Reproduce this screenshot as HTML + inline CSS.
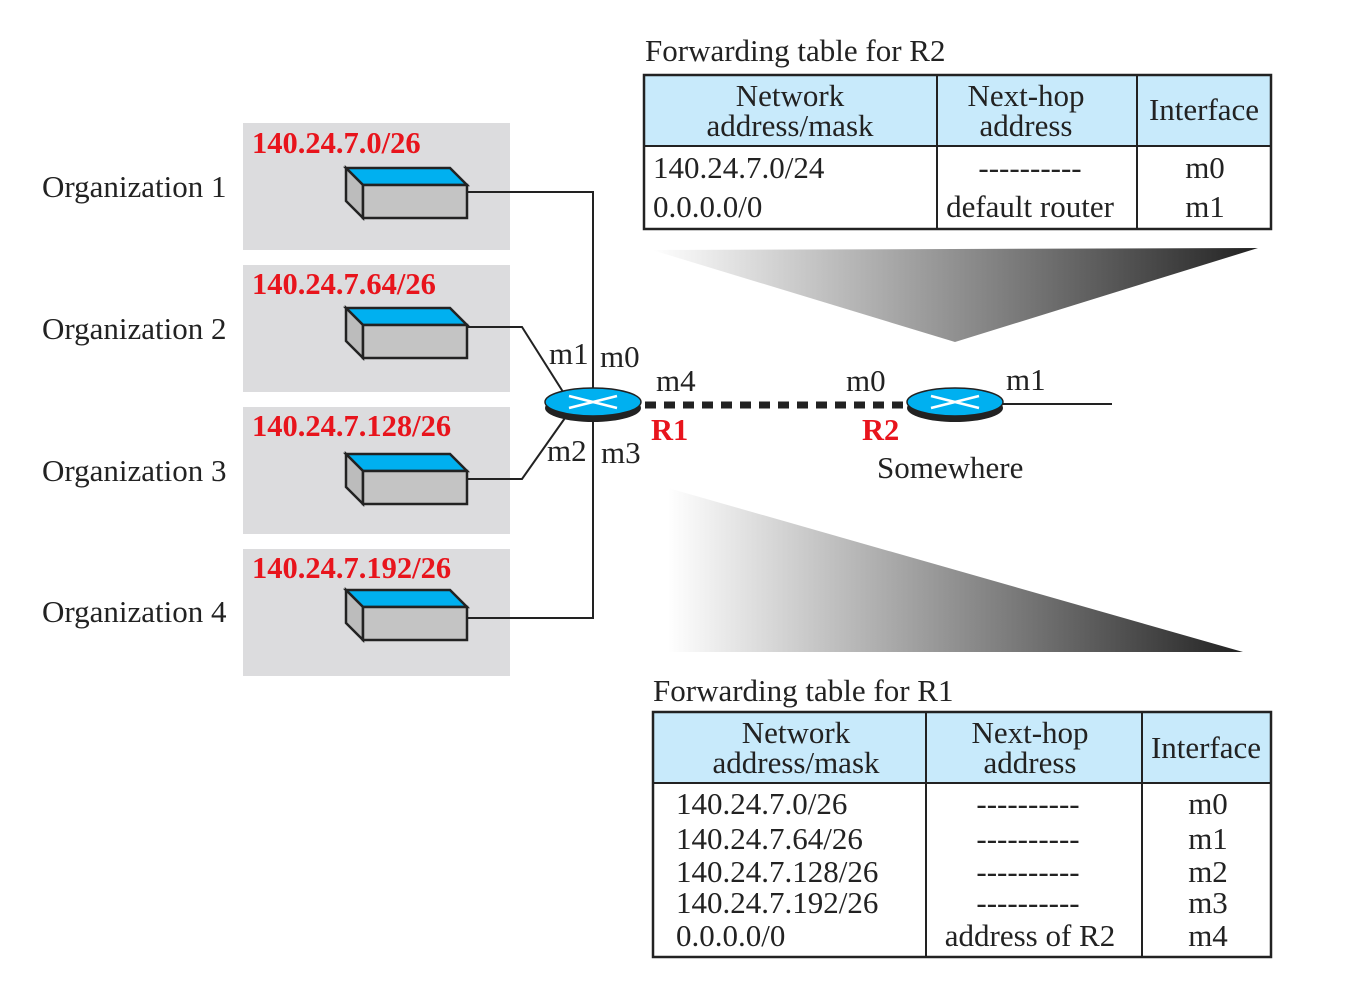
<!DOCTYPE html>
<html><head><meta charset="utf-8"><style>html,body{margin:0;padding:0;background:#fff}svg{display:block}text{font-family:"Liberation Serif",serif;font-size:31px;fill:#222}.r{fill:#e8141c;font-weight:bold;font-size:30.5px}</style></head><body>
<svg width="1348" height="999" viewBox="0 0 1348 999" xmlns="http://www.w3.org/2000/svg">
<defs>
<linearGradient id="g1" x1="0" x2="1" y1="0" y2="0"><stop offset="0" stop-color="#fff"/><stop offset="1" stop-color="#222"/></linearGradient>
<g id="dev"><polygon points="346,168 450,168 467,185 363,185" fill="#00b0f0" stroke="#222" stroke-width="2.5"/><polygon points="346,168 363,185 363,218 346,201" fill="#bcbcbc" stroke="#222" stroke-width="2.5"/><rect x="363" y="185" width="104" height="33" fill="#c4c4c4" stroke="#222" stroke-width="2.5"/></g>
<g id="rt"><ellipse cx="0" cy="6" rx="48" ry="14" fill="#222"/><ellipse cx="0" cy="0" rx="48" ry="14" fill="#00b0f0" stroke="#222" stroke-width="1.5"/><path d="M-24,-6 L24,6 M-24,6 L24,-6" stroke="#fff" stroke-width="2.5"/></g>
</defs>
<rect x="243" y="123" width="267" height="127" fill="#dcdcde"/>
<rect x="243" y="265" width="267" height="127" fill="#dcdcde"/>
<rect x="243" y="407" width="267" height="127" fill="#dcdcde"/>
<rect x="243" y="549" width="267" height="127" fill="#dcdcde"/>
<text x="252" y="153" class="r">140.24.7.0/26</text>
<text x="252" y="294" class="r">140.24.7.64/26</text>
<text x="252" y="436" class="r">140.24.7.128/26</text>
<text x="252" y="578" class="r">140.24.7.192/26</text>
<text x="42" y="197">Organization 1</text>
<text x="42" y="339">Organization 2</text>
<text x="42" y="481">Organization 3</text>
<text x="42" y="622">Organization 4</text>
<use href="#dev"/>
<use href="#dev" y="140"/>
<use href="#dev" y="286"/>
<use href="#dev" y="422"/>
<g fill="none" stroke="#222" stroke-width="2">
<polyline points="467,192 593,192 593,400"/>
<polyline points="467,327 522,327 565,395"/>
<polyline points="467,479 522,479 565,418"/>
<polyline points="467,618 593,618 593,420"/>
<line x1="1000" y1="404" x2="1112" y2="404"/>
<line x1="645" y1="405" x2="907" y2="405" stroke-width="7" stroke-dasharray="11,8"/>
</g>
<use href="#rt" x="593" y="402"/>
<use href="#rt" x="955" y="402"/>
<text x="549" y="364">m1</text><text x="600" y="367">m0</text>
<text x="656" y="391">m4</text><text x="846" y="391">m0</text>
<text x="1006" y="390">m1</text>
<text x="547" y="461">m2</text><text x="601" y="463">m3</text>
<text x="651" y="440" class="r">R1</text><text x="862" y="440" class="r">R2</text>
<text x="877" y="478">Somewhere</text>
<polygon points="652,250 1258,248 955,342" fill="url(#g1)"/>
<polygon points="668,488 1243,652 668,652" fill="url(#g1)"/>
<text x="645" y="61">Forwarding table for R2</text>
<rect x="644" y="75" width="627" height="71" fill="#c8eafb"/>
<rect x="644" y="75" width="627" height="154" fill="none" stroke="#222" stroke-width="2.5"/>
<line x1="644" y1="146" x2="1271" y2="146" stroke="#222" stroke-width="2"/>
<line x1="937" y1="75" x2="937" y2="229" stroke="#222" stroke-width="2"/>
<line x1="1137" y1="75" x2="1137" y2="229" stroke="#222" stroke-width="2"/>
<g text-anchor="middle">
<text x="790" y="106">Network</text><text x="790" y="136">address/mask</text>
<text x="1026" y="106">Next-hop</text><text x="1026" y="136">address</text>
<text x="1204" y="120">Interface</text>
<text x="1030" y="178">----------</text><text x="1030" y="217">default router</text>
<text x="1205" y="178">m0</text><text x="1205" y="217">m1</text>
</g>
<text x="653" y="178">140.24.7.0/24</text><text x="653" y="217">0.0.0.0/0</text>
<text x="653" y="701">Forwarding table for R1</text>
<rect x="653" y="712" width="618" height="71" fill="#c8eafb"/>
<rect x="653" y="712" width="618" height="245" fill="none" stroke="#222" stroke-width="2.5"/>
<line x1="653" y1="783" x2="1271" y2="783" stroke="#222" stroke-width="2"/>
<line x1="926" y1="712" x2="926" y2="957" stroke="#222" stroke-width="2"/>
<line x1="1142" y1="712" x2="1142" y2="957" stroke="#222" stroke-width="2"/>
<g text-anchor="middle">
<text x="796" y="743">Network</text><text x="796" y="773">address/mask</text>
<text x="1030" y="743">Next-hop</text><text x="1030" y="773">address</text>
<text x="1206" y="758">Interface</text>
<text x="1028" y="814">----------</text><text x="1028" y="849">----------</text><text x="1028" y="882">----------</text><text x="1028" y="913">----------</text><text x="1030" y="946">address of R2</text>
<text x="1208" y="814">m0</text><text x="1208" y="849">m1</text><text x="1208" y="882">m2</text><text x="1208" y="913">m3</text><text x="1208" y="946">m4</text>
</g>
<text x="676" y="814">140.24.7.0/26</text><text x="676" y="849">140.24.7.64/26</text><text x="676" y="882">140.24.7.128/26</text><text x="676" y="913">140.24.7.192/26</text><text x="676" y="946">0.0.0.0/0</text>
</svg>
</body></html>
